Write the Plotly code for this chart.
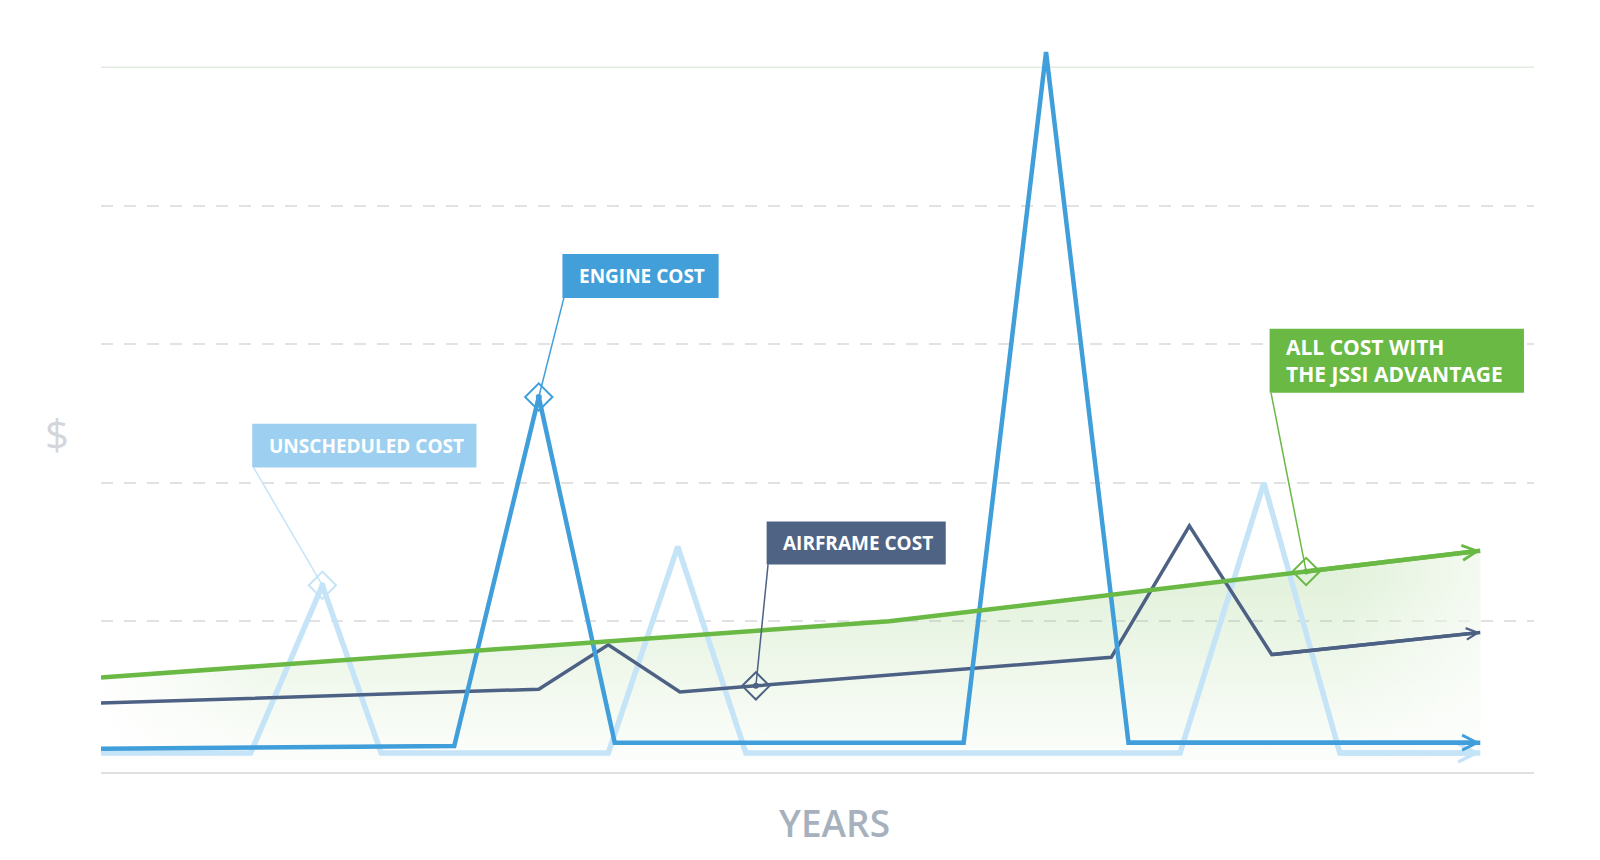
import plotly.graph_objects as go

# years on x, cost on y (gridline = 1 unit)
unsched_x = [0, 2.09, 3.09, 3.91, 7.08, 8.05, 9.0, 15.06, 16.23, 17.29, 19.25]
unsched_y = [0.05, 0.05, 1.26, 0.05, 0.05, 1.54, 0.05, 0.05, 2.0, 0.05, 0.05]

engine_x = [0, 4.93, 6.11, 7.17, 12.04, 13.19, 14.34, 19.25]
engine_y = [0.08, 0.10, 2.62, 0.124, 0.124, 5.11, 0.124, 0.124]

airframe_x = [0, 6.11, 7.08, 8.08, 9.14, 14.1, 15.19, 16.34, 19.25]
airframe_y = [0.41, 0.51, 0.83, 0.49, 0.534, 0.74, 1.69, 0.76, 0.92]

jssi_x = [0, 11.0, 16.82, 19.25]
jssi_y = [0.595, 1.0, 1.36, 1.51]

# which point of each series carries the diamond marker
marker_idx = {"unsched": 2, "engine": 2, "airframe": 4, "jssi": 2}

C_LIGHT = "#c6e4f7"
C_ENGINE = "#409fdb"
C_AIR = "#4d6184"
C_GREEN = "#69b944"

fig = go.Figure()

# soft green area under the JSSI line
fig.add_trace(go.Scatter(
    x=jssi_x, y=jssi_y, mode="none", fill="tozeroy",
    fillgradient=dict(type="vertical", start=0, stop=1.3,
                      colorscale=[[0, "rgba(105,185,68,0.02)"], [1, "rgba(105,185,68,0.19)"]]),
    hoverinfo="skip", showlegend=False))
# fade the area out at the left and right edges
fig.add_trace(go.Scatter(
    x=jssi_x, y=jssi_y, mode="none", fill="tozeroy",
    fillgradient=dict(type="horizontal", start=0, stop=jssi_x[-1],
                      colorscale=[[0, "rgba(255,255,255,0.95)"], [0.12, "rgba(255,255,255,0)"],
                                  [0.9, "rgba(255,255,255,0)"], [1, "rgba(255,255,255,0.6)"]]),
    hoverinfo="skip", showlegend=False))

series = [
    ("unsched", unsched_x, unsched_y, C_LIGHT, 5.5),
    ("airframe", airframe_x, airframe_y, C_AIR, 3.5),
    ("engine", engine_x, engine_y, C_ENGINE, 4.5),
    ("jssi", jssi_x, jssi_y, C_GREEN, 4.5),
]

annotations = []
for name, xs, ys, col, w in series:
    fig.add_trace(go.Scatter(x=xs, y=ys, mode="lines", line=dict(color=col, width=w),
                             hoverinfo="skip", showlegend=False))
    # chevron arrow at the end of each line
    annotations.append(dict(x=xs[-1], y=ys[-1], ax=xs[-2], ay=ys[-2], xref="x", yref="y",
                            axref="x", ayref="y", text="", showarrow=True, arrowhead=5,
                            arrowsize=0.65, arrowwidth=w, arrowcolor=col))

for name, xs, ys, col, w in series:
    i = marker_idx[name]
    fig.add_trace(go.Scatter(x=[xs[i]], y=[ys[i]], mode="markers",
                             marker=dict(symbol="diamond-open", size=21, color=col,
                                         line=dict(width=2, color=col)),
                             hoverinfo="skip", showlegend=False))
    fig.add_trace(go.Scatter(x=[xs[i]], y=[ys[i]], mode="markers",
                             marker=dict(symbol="circle", size=6, color=col),
                             hoverinfo="skip", showlegend=False))

# label boxes: (series, text, x0, x1, y0, y1, colour, font size)
boxes = [
    ("unsched", "UNSCHEDULED COST", 2.11, 5.24, 2.11, 2.427, "#9dd0f0", 19),
    ("engine", "ENGINE COST", 6.44, 8.62, 3.335, 3.652, "#429fda", 19),
    ("airframe", "AIRFRAME COST", 9.29, 11.79, 1.411, 1.721, "#4f6385", 19),
    ("jssi", "ALL COST WITH<br>THE JSSI ADVANTAGE", 16.31, 19.86, 2.65, 3.112, "#69b944", 21),
]
line_cols = {s[0]: s[3] for s in series}
pts = {s[0]: (s[1][marker_idx[s[0]]], s[2][marker_idx[s[0]]]) for s in series}

shapes = []
for name, text, x0, x1, y0, y1, bg, fs in boxes:
    shapes.append(dict(type="rect", xref="x", yref="y", x0=x0, x1=x1, y0=y0, y1=y1,
                       fillcolor=bg, line=dict(width=0), layer="above"))
    px, py = pts[name]
    shapes.append(dict(type="line", xref="x", yref="y", x0=x0 + 0.02, y0=y0, x1=px, y1=py,
                       line=dict(color=line_cols[name], width=1.5), layer="above"))
    annotations.append(dict(x=x0 + 0.2, y=(y0 + y1) / 2, xref="x", yref="y", text=text,
                            showarrow=False, xanchor="left", yanchor="middle", align="left",
                            font=dict(family="Open Sans", size=fs, color="white", weight="bold")))

# top frame line
shapes.append(dict(type="line", xref="paper", yref="y", x0=0, x1=1, y0=5, y1=5,
                   line=dict(color="#e2ebdf", width=1.5), layer="below"))

annotations.append(dict(x=-0.031, y=2.354, xref="paper", yref="y", text="$", showarrow=False,
                        xanchor="center", yanchor="middle",
                        font=dict(family="Open Sans", size=42, color="#d3d6db")))
annotations.append(dict(x=0.512, y=-0.068, xref="paper", yref="paper", text="YEARS", showarrow=False,
                        xanchor="center", yanchor="middle",
                        font=dict(family="Open Sans", size=37, color="#a7b1bd", weight=600)))

fig.update_layout(
    width=1600, height=860,
    margin=dict(l=93, r=74, t=14.6, b=96.2),
    paper_bgcolor="white", plot_bgcolor="white",
    xaxis=dict(range=[0, 20], showgrid=False, zeroline=False, showticklabels=False,
               showline=True, linecolor="#e0e0e0", linewidth=1.5, ticks=""),
    yaxis=dict(range=[-0.088, 5.32], tickvals=[1, 2, 3, 4], showticklabels=False,
               showgrid=True, gridcolor="#e2e2e5", gridwidth=2, griddash="12px,11px",
               zeroline=False, ticks=""),
    shapes=shapes,
    annotations=annotations,
)

fig.write_html("out.html")
